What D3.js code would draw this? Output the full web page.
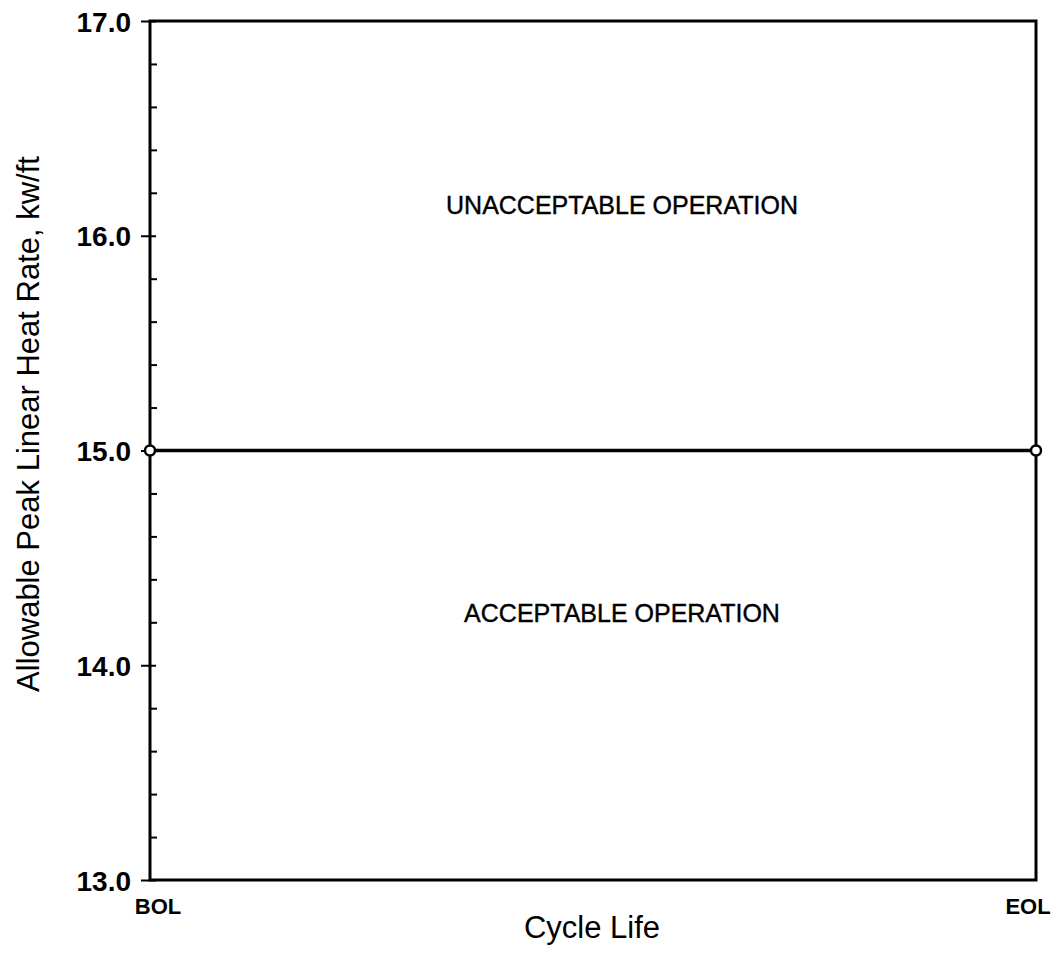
<!DOCTYPE html>
<html><head><meta charset="utf-8">
<script src="https://cdn.jsdelivr.net/npm/d3@7"></script>
<style>body{margin:0;background:#fff}svg{display:block}</style>
</head><body>
<script>
const yMajorTicks = [13.0, 14.0, 15.0, 16.0, 17.0];
const xCategories = ["BOL", "EOL"];
const limitLine = [15.0, 15.0];
const regionLabels = ["UNACCEPTABLE OPERATION", "ACCEPTABLE OPERATION"];
const regionValues = [16.1, 14.2];

const W = 1060, H = 954;
const m = {left:150, right:1036, top:21, bottom:880};
const svg = d3.select("body").append("svg").attr("width", W).attr("height", H);
const font = "'Liberation Sans', Arial, sans-serif";

const y = d3.scaleLinear().domain([13, 17]).range([m.bottom, m.top]);
const x = d3.scalePoint().domain(xCategories).range([m.left, m.right]);

// frame
svg.append("rect").attr("x", m.left).attr("y", m.top).attr("width", m.right-m.left).attr("height", m.bottom-m.top)
  .attr("fill","none").attr("stroke","#000").attr("stroke-width",3);

// minor ticks (inward)
const minor = d3.range(13, 17.001, 0.2).filter(v => Math.abs(v - Math.round(v)) > 0.01);
svg.append("g").attr("transform", `translate(${m.left},0)`)
  .call(d3.axisRight(y).tickValues(minor).tickSize(7).tickFormat(""))
  .call(g => g.select(".domain").remove())
  .call(g => g.selectAll("line").attr("stroke-width",2));

// major ticks (crossing axis)
const ya = svg.append("g").attr("transform", `translate(${m.left},0)`)
  .call(d3.axisLeft(y).tickValues(yMajorTicks).tickSize(9).tickPadding(10).tickFormat(d3.format(".1f")));
ya.select(".domain").remove();
ya.selectAll("line").attr("x2",-9).attr("x1",6).attr("stroke-width",2);
ya.selectAll("text").attr("font-family", font).attr("font-size", 28).attr("font-weight","bold").attr("fill","#000").attr("dy","0.36em");

// limit line
const line = d3.line().x((d,i)=>x(xCategories[i])).y(d=>y(d));
svg.append("path").datum(limitLine).attr("d", line).attr("stroke","#000").attr("stroke-width",3.5).attr("fill","none");
svg.selectAll("circle.pt").data(limitLine).enter().append("circle")
  .attr("cx",(d,i)=>x(xCategories[i])).attr("cy",d=>y(d)).attr("r",5)
  .attr("fill","#fff").attr("stroke","#000").attr("stroke-width",2.5);

// region labels
svg.selectAll("text.reg").data(regionLabels).enter().append("text")
  .attr("x", 622).attr("y",(d,i)=>y(regionValues[i]))
  .attr("text-anchor","middle").attr("font-family",font).attr("font-size",25)
  .attr("stroke","#000").attr("stroke-width",0.4)
  .text(d=>d);

// x category labels
svg.selectAll("text.cat").data(xCategories).enter().append("text")
  .attr("x",(d,i)=> x(d) + (i===0 ? 8 : -8)).attr("y", 914)
  .attr("text-anchor","middle").attr("font-family",font).attr("font-size",22).attr("font-weight","bold")
  .text(d=>d);

// axis titles
svg.append("text").attr("x", 592).attr("y", 938).attr("text-anchor","middle")
  .attr("font-family",font).attr("font-size",31).text("Cycle Life");
svg.append("text").attr("transform","translate(39,424) rotate(-90)").attr("text-anchor","middle")
  .attr("font-family",font).attr("font-size",31).text("Allowable Peak Linear Heat Rate, kw/ft");
</script>
</body></html>
